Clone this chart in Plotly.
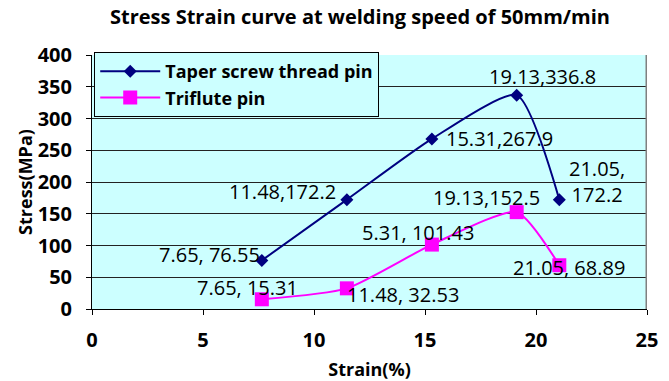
import plotly.graph_objects as go

# ---- data ----
strain = [7.65, 11.48, 15.31, 19.13, 21.05]
taper_stress = [76.55, 172.2, 267.9, 336.8, 172.2]
triflute_stress = [15.31, 32.53, 101.43, 152.5, 68.89]
taper_labels = ["7.65, 76.55", "11.48,172.2", "15.31,267.9", "19.13,336.8", "21.05,<br>172.2"]
triflute_labels = ["7.65, 15.31", "11.48, 32.53", "5.31, 101.43", "19.13,152.5", "21.05, 68.89"]
x_ticks = [0, 5, 10, 15, 20, 25]
y_ticks = [0, 50, 100, 150, 200, 250, 300, 350, 400]

# label pixel offsets (x, y) from their points
taper_off = [(-52, 6), (-64, 8), (68, 0), (26, 19), (38, 18)]
triflute_off = [(-14, 12), (56, -6), (-14, 12), (-30, 15), (10, -2)]

NAVY = "#000080"
MAGENTA = "#FF00FF"
FONT = "Open Sans"

fig = go.Figure()
fig.add_trace(go.Scatter(
    x=strain, y=taper_stress, name="Taper screw thread pin",
    mode="lines+markers",
    line=dict(color=NAVY, width=2, shape="spline", smoothing=0.6),
    marker=dict(symbol="diamond", size=10, color=NAVY),
))
fig.add_trace(go.Scatter(
    x=strain, y=triflute_stress, name="Triflute pin",
    mode="lines+markers",
    line=dict(color=MAGENTA, width=2, shape="spline", smoothing=0.6),
    marker=dict(symbol="square", size=14, color=MAGENTA),
))

annotations = []
for xs, ys, labs, offs in [(strain, taper_stress, taper_labels, taper_off),
                           (strain, triflute_stress, triflute_labels, triflute_off)]:
    for xv, yv, t, (dx, dy) in zip(xs, ys, labs, offs):
        annotations.append(dict(
            x=xv, y=yv, xref="x", yref="y", text=t, showarrow=False,
            xshift=dx, yshift=dy,
            font=dict(family=FONT, size=20, color="black"),
        ))

fig.update_layout(
    width=669, height=381,
    margin=dict(l=92, r=22, t=55, b=72, autoexpand=False),
    paper_bgcolor="white",
    plot_bgcolor="#CCFFFF",
    title=dict(
        text="<b>Stress Strain curve at welding speed of 50mm/min</b>",
        x=360 / 669, xanchor="center", y=1 - 17 / 381, yanchor="middle",
        font=dict(family=FONT, size=20, color="black"),
    ),
    showlegend=True,
    legend=dict(
        x=0.004, y=1.012, xanchor="left", yanchor="top",
        bgcolor="#CCFFFF", bordercolor="black", borderwidth=1,
        font=dict(family=FONT, size=18, color="black", weight="bold"),
        itemwidth=60,
    ),
    annotations=annotations,
)

fig.update_xaxes(
    range=[0, 25], tickvals=x_ticks, ticktext=[str(v) for v in x_ticks],
    showgrid=False, zeroline=False, automargin=False,
    showline=True, linecolor="black", linewidth=1,
    ticks="outside", ticklen=5, tickcolor="black", ticklabelstandoff=8,
    tickfont=dict(family=FONT, size=20, color="black", weight="bold"),
    title=dict(text="<b>Strain(%)</b>", standoff=16,
               font=dict(family=FONT, size=18, color="black")),
)
fig.update_yaxes(
    range=[0, 400], tickvals=y_ticks, ticktext=[str(v) for v in y_ticks],
    showgrid=True, gridcolor="#222222", gridwidth=1, zeroline=False, automargin=False,
    showline=True, linecolor="black", linewidth=1,
    ticks="outside", ticklen=5, tickcolor="black", ticklabelstandoff=10,
    tickfont=dict(family=FONT, size=20, color="black", weight="bold"),
    title=dict(text="<b>Stress(MPa)</b>", standoff=0,
               font=dict(family=FONT, size=18, color="black")),
)

# gray plot-area frame on the right side
fig.add_shape(type="line", xref="x", yref="y", x0=25, x1=25, y0=0, y1=400,
              line=dict(color="#808080", width=3), layer="above")

fig.write_html("out.html")
